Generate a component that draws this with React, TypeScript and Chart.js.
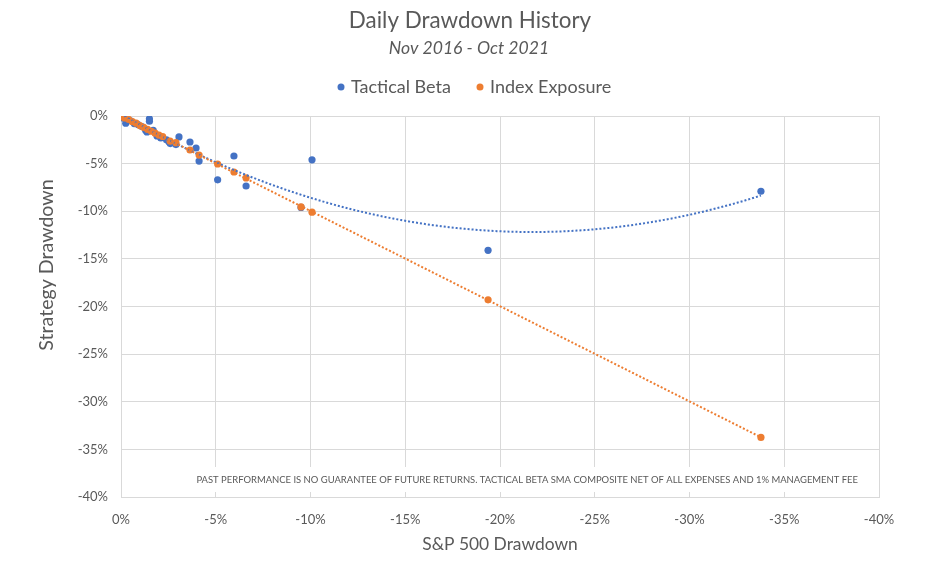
import React, { useEffect, useRef } from 'react';
import { Chart, registerables } from 'chart.js';

Chart.register(...registerables);

// S&P 500 drawdown (x) vs strategy drawdown (y), in percent
const tacticalX = [0, -0.1, -0.25, -0.3, -0.5, -0.7, -0.9, -1.1, -1.3, -1.37, -1.5, -1.5, -1.7, -1.9, -2.1, -2.4, -2.53, -2.6, -2.9, -3.06, -3.64, -3.96, -4.12, -5.1, -5.96, -6.6, -9.5, -10.08, -19.37, -33.77];
const tacticalY = [0, -0.2, -0.75, -0.3, -0.5, -0.8, -0.9, -1.1, -1.5, -1.68, -0.3, -0.55, -1.5, -2.1, -2.3, -2.5, -2.7, -2.9, -3.0, -2.2, -2.73, -3.36, -4.73, -6.7, -4.2, -7.35, -9.6, -4.6, -14.1, -7.9];

const indexX = [0, -0.1, -0.2, -0.4, -0.6, -0.8, -1.0, -1.2, -1.4, -1.6, -1.8, -2.0, -2.2, -2.59, -2.9, -3.64, -4.12, -5.1, -5.96, -6.6, -9.5, -10.08, -19.37, -33.77];
const indexY = [0, -0.1, -0.2, -0.35, -0.6, -0.75, -1.0, -1.2, -1.4, -1.6, -1.8, -2.0, -2.15, -2.63, -2.8, -3.57, -4.1, -5.04, -5.88, -6.5, -9.55, -10.1, -19.3, -33.75];

const seriesNames = ['Tactical Beta', 'Index Exposure'];
const seriesColors = ['#4472C4', '#ED7D31'];

const chartTitle = 'Daily Drawdown History';
const chartSubtitle = 'Nov 2016 - Oct 2021';
const xTitle = 'S&P 500 Drawdown';
const yTitle = 'Strategy Drawdown';
const footnote = 'PAST PERFORMANCE IS NO GUARANTEE OF FUTURE RETURNS. TACTICAL BETA SMA COMPOSITE NET OF ALL EXPENSES AND 1% MANAGEMENT FEE';

const FONT = 'Lato, "Open Sans", sans-serif';
const TEXT = '#595959';
const GRID = '#d9d9d9';

// least squares polynomial fit, like Excel's trendline
function polyFit(xs: number[], ys: number[], deg: number) {
  const n = deg + 1;
  const m: number[][] = [];
  for (let r = 0; r < n; r++) {
    const row: number[] = [];
    for (let c = 0; c < n; c++) {
      let s = 0;
      xs.forEach((x) => (s += Math.pow(x, r + c)));
      row.push(s);
    }
    let t = 0;
    xs.forEach((x, i) => (t += Math.pow(x, r) * ys[i]));
    row.push(t);
    m.push(row);
  }
  for (let i = 0; i < n; i++) {
    let p = i;
    for (let k = i + 1; k < n; k++) if (Math.abs(m[k][i]) > Math.abs(m[p][i])) p = k;
    [m[i], m[p]] = [m[p], m[i]];
    for (let k = 0; k < n; k++) {
      if (k === i) continue;
      const f = m[k][i] / m[i][i];
      for (let c = i; c <= n; c++) m[k][c] -= f * m[i][c];
    }
  }
  return m.map((row, i) => row[n] / row[i]);
}

function trend(xs: number[], ys: number[], deg: number) {
  const coef = polyFit(xs, ys, deg);
  const lo = Math.min(...xs);
  const hi = Math.max(...xs);
  const pts = [];
  for (let i = 0; i <= 80; i++) {
    const x = hi + ((lo - hi) * i) / 80;
    pts.push({ x, y: coef.reduce((s, c, k) => s + c * Math.pow(x, k), 0) });
  }
  return pts;
}

const toPoints = (xs: number[], ys: number[]) => xs.map((x, i) => ({ x, y: ys[i] }));

const textPlugin = {
  id: 'excelText',
  beforeDatasetsDraw(chart: any) {
    const { ctx } = chart;
    ctx.save();
    ctx.fillStyle = '#ffffff';
    ctx.fillRect(188, 467, 676, 25);
    ctx.fillStyle = TEXT;
    ctx.font = `9.45px ${FONT}`;
    ctx.textAlign = 'right';
    ctx.textBaseline = 'middle';
    ctx.fillText(footnote, 858, 480);
    ctx.restore();
  },
  afterDraw(chart: any) {
    const { ctx } = chart;
    ctx.save();
    ctx.fillStyle = TEXT;
    ctx.textBaseline = 'middle';
    ctx.textAlign = 'center';
    ctx.font = `22.4px ${FONT}`;
    ctx.fillText(chartTitle, 470, 21);
    ctx.font = `italic 17.6px ${FONT}`;
    ctx.fillText(chartSubtitle, 469, 48);

    // legend
    ctx.font = `18px ${FONT}`;
    ctx.textAlign = 'left';
    const legendX = [341, 480];
    seriesNames.forEach((name, i) => {
      ctx.fillStyle = seriesColors[i];
      ctx.beginPath();
      ctx.arc(legendX[i], 87, 3.5, 0, Math.PI * 2);
      ctx.fill();
      ctx.fillStyle = TEXT;
      ctx.fillText(name, legendX[i] + 10, 87);
    });

    // axis titles
    ctx.textAlign = 'center';
    ctx.font = `17.4px ${FONT}`;
    ctx.fillText(xTitle, 500, 544);
    ctx.font = `19.6px ${FONT}`;
    ctx.translate(47, 265);
    ctx.rotate(-Math.PI / 2);
    ctx.fillText(yTitle, 0, 0);
    ctx.restore();
  },
};

const App = () => {
  const canvasRef = useRef<HTMLCanvasElement>(null);
  const chartRef = useRef<Chart | null>(null);

  useEffect(() => {
    document.body.style.margin = '0';
    if (chartRef.current) chartRef.current.destroy();
    const ctx = canvasRef.current!.getContext('2d')!;

    const pointStyle = (color: string) => ({
      backgroundColor: color,
      borderColor: color,
      borderWidth: 0,
      pointRadius: 3.6,
      pointHoverRadius: 3.6,
      showLine: false,
    });
    const trendStyle = (color: string) => ({
      borderColor: color,
      borderWidth: 2,
      borderDash: [2, 2],
      pointRadius: 0,
      showLine: true,
      fill: false,
    });

    chartRef.current = new Chart(ctx, {
      type: 'scatter',
      data: {
        datasets: [
          { label: seriesNames[0], data: toPoints(tacticalX, tacticalY), order: 3, ...pointStyle(seriesColors[0]) },
          { label: seriesNames[1], data: toPoints(indexX, indexY), order: 2, ...pointStyle(seriesColors[1]) },
          { label: 'Poly. (Tactical Beta)', data: trend(tacticalX, tacticalY, 2), order: 1, ...trendStyle(seriesColors[0]) },
          { label: 'Linear (Index Exposure)', data: trend(indexX, indexY, 1), order: 0, ...trendStyle(seriesColors[1]) },
        ],
      },
      options: {
        animation: false,
        responsive: true,
        maintainAspectRatio: false,
        layout: { padding: { left: 71, right: 68, top: 116, bottom: 39 } },
        plugins: {
          legend: { display: false },
          title: { display: false },
          tooltip: { enabled: false },
        },
        scales: {
          x: {
            type: 'linear',
            min: -40,
            max: 0,
            reverse: true,
            afterFit: (s: any) => { s.height = 40; },
            grid: { color: GRID, drawTicks: false },
            border: { color: GRID },
            ticks: {
              stepSize: 5,
              padding: 15,
              color: TEXT,
              font: { family: FONT, size: 13 },
              callback: (v: any) => `${v === 0 ? 0 : v}%`,
            },
          },
          y: {
            type: 'linear',
            min: -40,
            max: 0,
            afterFit: (s: any) => { s.width = 50; },
            grid: { color: GRID, drawTicks: false },
            border: { color: GRID },
            ticks: {
              stepSize: 5,
              padding: 13,
              color: TEXT,
              font: { family: FONT, size: 13 },
              callback: (v: any) => `${v === 0 ? 0 : v}%`,
            },
          },
        },
      },
      plugins: [textPlugin],
    });

    return () => {
      if (chartRef.current) {
        chartRef.current.destroy();
        chartRef.current = null;
      }
    };
  }, []);

  return (
    <div style={{ width: 947, height: 576, background: '#fff' }}>
      <canvas ref={canvasRef}></canvas>
    </div>
  );
};

export default App;
